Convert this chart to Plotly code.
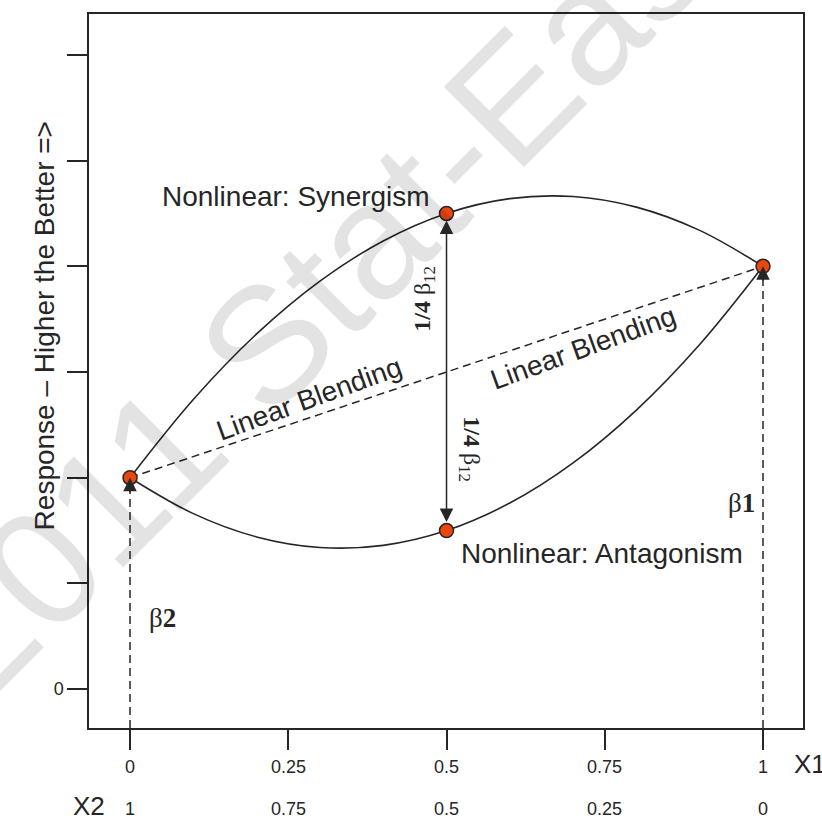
import plotly.graph_objects as go

# Mixture design: X1 runs 0 -> 1 while X2 = 1 - X1
x1_ticks = [0, 0.25, 0.5, 0.75, 1]
x1_tick_text = ["0", "0.25", "0.5", "0.75", "1"]
x2_tick_text = ["1", "0.75", "0.5", "0.25", "0"]
y_ticks = [0, 1, 2, 3, 4, 5, 6]
y_tick_text = ["0", "", "", "", "", "", ""]

# Pure blends and 50/50 blends
pure_x = [0, 1]
pure_y = [2.0, 4.0]              # beta2 at X1=0, beta1 at X1=1
mid_x = [0.5, 0.5]
mid_y = [4.5, 1.5]               # synergism, antagonism at the 50/50 blend

# Response curves read along X1
curve_x = [0, 0.1, 0.2, 0.3, 0.4, 0.5, 0.6, 0.7, 0.8, 0.9, 1.0]
synergism_y = [2.00, 2.74, 3.36, 3.86, 4.24, 4.50, 4.64, 4.66, 4.56, 4.34, 4.00]
antagonism_y = [2.00, 1.66, 1.44, 1.34, 1.36, 1.50, 1.76, 2.14, 2.64, 3.26, 4.00]

x_range = [-0.0648, 1.0632]
y_range = [-0.368, 6.387]

ink = "#262626"
dot_fill = "#e8470f"
sans = "Liberation Sans, Arial, sans-serif"
serif = "Liberation Serif, Times New Roman, serif"

fig = go.Figure()

# curved nonlinear blends
for ys in (synergism_y, antagonism_y):
    fig.add_trace(go.Scatter(x=curve_x, y=ys, mode="lines",
                             line=dict(color=ink, width=1.6, shape="spline"),
                             hoverinfo="skip", showlegend=False))

# straight linear blending line
fig.add_trace(go.Scatter(x=pure_x, y=pure_y, mode="lines",
                         line=dict(color=ink, width=1.5, dash="8px,5px"),
                         hoverinfo="skip", showlegend=False))

# dashed drop lines from each pure component down to the axis
for px, py in zip(pure_x, pure_y):
    fig.add_trace(go.Scatter(x=[px, px], y=[y_range[0], py], mode="lines",
                             line=dict(color=ink, width=1.5, dash="8px,5px"),
                             hoverinfo="skip", showlegend=False))

# design points
fig.add_trace(go.Scatter(x=pure_x + mid_x, y=pure_y + mid_y, mode="markers",
                         marker=dict(size=14, color=dot_fill,
                                     line=dict(color=ink, width=1.5)),
                         hoverinfo="skip", showlegend=False))

annotations = []

# faint watermark
annotations.append(dict(x=0.336, y=3.98, xref="x", yref="y",
                        text="2011 Stat-Ease", showarrow=False, textangle=-45,
                        font=dict(family=sans, size=165, color="rgba(0,0,0,0.11)")))

# arrowheads on the dashed drop lines
for px, py in zip(pure_x, pure_y):
    annotations.append(dict(x=px, y=py, xref="x", yref="y", ax=0, ay=16,
                            text="", showarrow=True, arrowhead=2, arrowsize=1.8,
                            arrowwidth=1.5, arrowcolor=ink, standoff=0))

# double-headed arrow between synergism and antagonism points
annotations.append(dict(x=mid_x[0], y=mid_y[0], ax=mid_x[1], ay=mid_y[1],
                        xref="x", yref="y", axref="x", ayref="y", text="",
                        showarrow=True, arrowhead=2, startarrowhead=2,
                        arrowside="end+start", arrowsize=1.8, startarrowsize=1.8,
                        arrowwidth=1.5, arrowcolor=ink, standoff=7, startstandoff=7))

text_font = dict(family=sans, size=28, color=ink)
annotations += [
    dict(x=0.477, y=4.66, text="Nonlinear: Synergism", xanchor="right",
         showarrow=False, font=text_font),
    dict(x=0.52, y=1.28, text="Nonlinear: Antagonism", xanchor="left",
         showarrow=False, font=text_font),
    dict(x=0.284, y=2.745, text="Linear Blending", textangle=-20,
         showarrow=False, font=text_font),
    dict(x=0.717, y=3.23, text="Linear Blending", textangle=-20,
         showarrow=False, font=text_font),
]

beta_font = dict(family=serif, size=24, color=ink)
annotations += [
    dict(x=0.464, y=3.69, text="<b>1/4</b> β<sub>12</sub>", textangle=-90,
         showarrow=False, font=beta_font),
    dict(x=0.537, y=2.27, text="<b>1/4</b> β<sub>12</sub>", textangle=90,
         showarrow=False, font=beta_font),
    dict(x=0.99, y=1.76, text="β<b>1</b>", xanchor="right",
         showarrow=False, font=dict(family=serif, size=27, color=ink)),
    dict(x=0.027, y=0.67, text="β<b>2</b>", xanchor="left",
         showarrow=False, font=dict(family=serif, size=27, color=ink)),
]

# X1 and X2 tick rows
tick_font = dict(family=sans, size=18, color=ink)
for xv, t1, t2 in zip(x1_ticks, x1_tick_text, x2_tick_text):
    annotations.append(dict(x=xv, y=-0.054, xref="x", yref="paper", text=t1,
                            showarrow=False, font=tick_font, yanchor="middle"))
    annotations.append(dict(x=xv, y=-0.113, xref="x", yref="paper", text=t2,
                            showarrow=False, font=tick_font, yanchor="middle"))
annotations.append(dict(x=1.046, y=-0.050, xref="x", yref="paper", text="X1",
                        xanchor="left", yanchor="middle", showarrow=False,
                        font=dict(family=sans, size=26, color=ink)))
annotations.append(dict(x=-0.036, y=-0.109, xref="x", yref="paper", text="X2",
                        xanchor="right", yanchor="middle", showarrow=False,
                        font=dict(family=sans, size=26, color=ink)))

# y-axis title
annotations.append(dict(x=-0.087, y=0.563, xref="paper", yref="paper",
                        text="Response – Higher the Better =>", textangle=-90,
                        showarrow=False, font=text_font))

for a in annotations:
    a.setdefault("xref", "x")
    a.setdefault("yref", "y")

fig.update_layout(
    width=822, height=818, autosize=False,
    margin=dict(l=89, r=19, t=12, b=90),
    paper_bgcolor="white", plot_bgcolor="white",
    showlegend=False,
    annotations=annotations,
    xaxis=dict(range=x_range, tickvals=x1_ticks, showticklabels=False,
               ticks="outside", ticklen=20, tickwidth=1.5, tickcolor=ink,
               showline=True, mirror=True, linecolor=ink, linewidth=1.5,
               showgrid=False, zeroline=False, fixedrange=True),
    yaxis=dict(range=y_range, tickvals=y_ticks, ticktext=y_tick_text,
               ticks="outside", ticklen=20, tickwidth=1.5, tickcolor=ink,
               tickfont=tick_font,
               showline=True, mirror=True, linecolor=ink, linewidth=1.5,
               showgrid=False, zeroline=False, fixedrange=True),
)

fig.write_html("out.html")
